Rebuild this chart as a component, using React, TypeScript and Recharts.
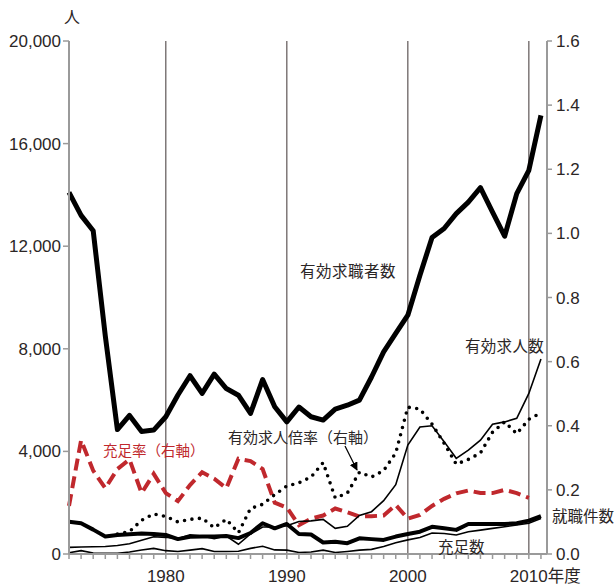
import React from "react";
import { ComposedChart, Line, XAxis, YAxis, ReferenceLine } from "recharts";

const years = [
  1972, 1973, 1974, 1975, 1976, 1977, 1978, 1979, 1980, 1981,
  1982, 1983, 1984, 1985, 1986, 1987, 1988, 1989, 1990, 1991,
  1992, 1993, 1994, 1995, 1996, 1997, 1998, 1999, 2000, 2001,
  2002, 2003, 2004, 2005, 2006, 2007, 2008, 2009, 2010, 2011,
];

// 有効求職者数 (left axis)
const jobSeekers = [
  14100, 13200, 12600, 8500, 4850, 5400, 4780, 4830, 5350, 6200,
  6950, 6260, 7010, 6450, 6190, 5480, 6800, 5740, 5150, 5730,
  5350, 5220, 5650, 5800, 6000, 6900, 7880, 8600, 9310, 10870,
  12340, 12690, 13270, 13720, 14280, 13330, 12390, 14050, 14960, 17100,
];

// 有効求人数 (left axis)
const jobOpenings = [
  260, 270, 285, 290, 330, 400, 540, 670, 650, 600,
  750, 700, 600, 700, 380, 780, 1050, 1050, 1100, 1270,
  1290, 1350, 1000, 1080, 1500, 1650, 2080, 2700, 4250, 4950,
  5000, 4380, 3730, 4050, 4440, 5060, 5150, 5290, 6260, 7600,
];

// 就職件数 (left axis)
const placements = [
  1260, 1200, 950, 680, 740, 770, 800, 780, 740, 580,
  670, 680, 680, 700, 620, 820, 1200, 1000, 1170, 780,
  760, 450, 480, 420, 610, 580, 550, 680, 780, 870,
  1060, 1000, 940, 1170, 1170, 1170, 1170, 1200, 1300, 1480,
];

// 充足数 (left axis)
const filled = [
  50, 130, 40, 30, 30, 80, 155, 220, 130, 100,
  150, 210, 100, 100, 110, 220, 300, 160, 150, 60,
  80, 150, 60, 100, 150, 180, 290, 440, 550, 640,
  820, 800, 740, 870, 930, 1000, 1060, 1130, 1200, 1380,
];

// 有効求人倍率 (right axis)
const openingsRatio = [
  null, null, null, null, 0.062, 0.07, 0.105, 0.125, 0.117, 0.1,
  0.108, 0.112, 0.082, 0.108, 0.066, 0.142, 0.155, 0.185, 0.212, 0.222,
  0.24, 0.285, 0.175, 0.19, 0.255, 0.24, 0.26, 0.315, 0.458, 0.452,
  0.405, 0.345, 0.28, 0.295, 0.315, 0.38, 0.412, 0.375, 0.42, 0.44,
];

// 充足率 (right axis)
const fillRate = [
  0.15, 0.355, 0.26, 0.205, 0.265, 0.295, 0.19, 0.25, 0.19, 0.165,
  0.215, 0.255, 0.235, 0.205, 0.297, 0.29, 0.265, 0.16, 0.145, 0.09,
  0.11, 0.12, 0.142, 0.13, 0.117, 0.118, 0.12, 0.153, 0.11, 0.122,
  0.15, 0.172, 0.189, 0.198, 0.19, 0.19, 0.2, 0.19, 0.175, null,
];

const leftTicks = [0, 4000, 8000, 12000, 16000, 20000];
const rightTicks = [0, 0.2, 0.4, 0.6, 0.8, 1.0, 1.2, 1.4, 1.6];
const labelYears = [1980, 1990, 2000, 2010];
const decadeLines = [1980, 1990, 2000, 2010];

const data = years.map((year, i) => ({
  year,
  jobSeekers: jobSeekers[i],
  jobOpenings: jobOpenings[i],
  placements: placements[i],
  filled: filled[i],
  openingsRatio: openingsRatio[i],
  fillRate: fillRate[i],
}));

const FONT = "'Liberation Sans', Arial, 'Noto Sans CJK JP', sans-serif";
const CJK = "'Noto Sans CJK JP', 'Liberation Sans', sans-serif";
const TEXT = "#2b2626";
const RED = "#c0282d";
const AXIS = "#9a9a9a";

const XTick = (props: any) => {
  const { x, y, payload } = props;
  const v = payload.value;
  if (!labelYears.includes(v)) return null;
  if (v === 2010) {
    return (
      <text x={x - 19} y={y} dy="0.71em" textAnchor="start" fill={TEXT} fontSize={17} fontFamily={FONT}>
        2010<tspan fontFamily={CJK} fontSize={16.5}>年度</tspan>
      </text>
    );
  }
  return (
    <text x={x} y={y} dy="0.71em" textAnchor="middle" fill={TEXT} fontSize={17} fontFamily={FONT}>
      {v}
    </text>
  );
};

export default function App() {
  return (
    <div style={{ position: "absolute", left: 0, top: 0, width: 615, height: 586, background: "#fff" }}>
      <ComposedChart
        width={615}
        height={586}
        data={data}
        margin={{ top: 41, right: 8, bottom: 2, left: 9 }}
      >
        <XAxis
          dataKey="year"
          type="number"
          domain={[1972, 2011.5]}
          ticks={years}
          interval={0}
          height={30}
          tick={<XTick />}
          tickSize={5}
          tickMargin={11}
          stroke={AXIS}
          axisLine={{ stroke: AXIS, strokeWidth: 2 }}
          tickLine={{ stroke: AXIS, strokeWidth: 1.5 }}
        />
        <YAxis
          yAxisId="left"
          orientation="left"
          domain={[0, 20000]}
          ticks={leftTicks}
          width={60}
          tickSize={6}
          tickMargin={2}
          tickFormatter={(v: number) => v.toLocaleString("en-US")}
          tick={{ fill: TEXT, fontSize: 17, fontFamily: FONT }}
          axisLine={{ stroke: AXIS, strokeWidth: 2 }}
          tickLine={{ stroke: AXIS, strokeWidth: 1.5 }}
        />
        <YAxis
          yAxisId="right"
          orientation="right"
          domain={[0, 1.6]}
          ticks={rightTicks}
          width={60}
          tickSize={5}
          tickMargin={4}
          tickFormatter={(v: number) => v.toFixed(1)}
          tick={{ fill: TEXT, fontSize: 17, fontFamily: FONT }}
          axisLine={{ stroke: AXIS, strokeWidth: 2 }}
          tickLine={{ stroke: AXIS, strokeWidth: 1.5 }}
        />
        {decadeLines.map((y) => (
          <ReferenceLine key={y} x={y} yAxisId="left" stroke="#5e5656" strokeWidth={1.2} />
        ))}
        <Line
          yAxisId="right"
          dataKey="fillRate"
          type="linear"
          stroke={RED}
          strokeWidth={4}
          strokeDasharray="12 6"
          dot={false}
          isAnimationActive={false}
        />
        <Line
          yAxisId="left"
          dataKey="filled"
          type="linear"
          stroke="#000"
          strokeWidth={1.6}
          dot={false}
          isAnimationActive={false}
        />
        <Line
          yAxisId="left"
          dataKey="jobOpenings"
          type="linear"
          stroke="#000"
          strokeWidth={1.6}
          dot={false}
          isAnimationActive={false}
        />
        <Line
          yAxisId="left"
          dataKey="placements"
          type="linear"
          stroke="#000"
          strokeWidth={4}
          strokeLinejoin="round"
          dot={false}
          isAnimationActive={false}
        />
        <Line
          yAxisId="right"
          dataKey="openingsRatio"
          type="linear"
          stroke="#000"
          strokeWidth={3.6}
          strokeDasharray="0 7.5"
          strokeLinecap="round"
          dot={false}
          isAnimationActive={false}
        />
        <Line
          yAxisId="left"
          dataKey="jobSeekers"
          type="linear"
          stroke="#000"
          strokeWidth={5}
          strokeLinejoin="round"
          dot={false}
          isAnimationActive={false}
        />
      </ComposedChart>
      <svg
        width={615}
        height={586}
        style={{ position: "absolute", left: 0, top: 0, pointerEvents: "none" }}
      >
        <defs>
          <marker id="arrow" viewBox="0 0 10 10" refX="9" refY="5" markerWidth="7" markerHeight="7" orient="auto">
            <path d="M0,0 L10,5 L0,10 z" fill="#000" />
          </marker>
        </defs>
        <text x={64} y={23} fontSize={16} fontFamily={CJK} fill={TEXT}>人</text>
        <text x={300} y={277} fontSize={15.5} fontFamily={CJK} fill={TEXT} letterSpacing={0.5}>有効求職者数</text>
        <text x={465} y={352} fontSize={15.5} fontFamily={CJK} fill={TEXT} letterSpacing={0.3}>有効求人数</text>
        <text x={228} y={443} fontSize={15} fontFamily={CJK} fill={TEXT}>有効求人倍率（右軸）</text>
        <text x={103} y={456} fontSize={14.5} fontFamily={CJK} fill={RED}>充足率（右軸）</text>
        <text x={552} y={522} fontSize={15.5} fontFamily={CJK} fill={TEXT}>就職件数</text>
        <text x={438} y={553} fontSize={15.5} fontFamily={CJK} fill={TEXT}>充足数</text>
        <line x1={345} y1={446} x2={357} y2={470} stroke="#000" strokeWidth={1.2} markerEnd="url(#arrow)" />
      </svg>
    </div>
  );
}
